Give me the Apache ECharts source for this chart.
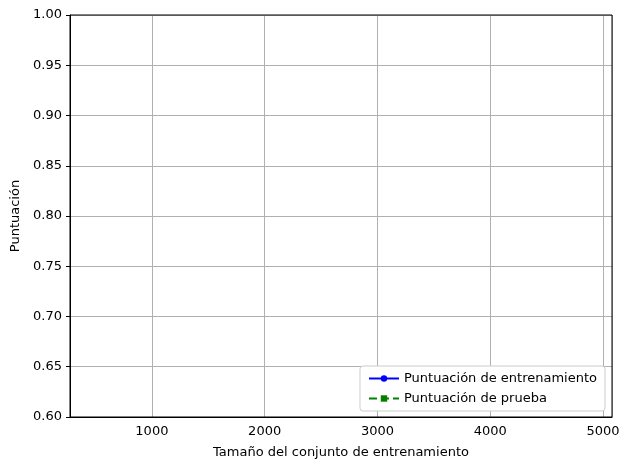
<!DOCTYPE html>
<html>
<head>
<meta charset="UTF-8">
<script src="https://cdn.jsdelivr.net/npm/echarts@6/dist/echarts.min.js"></script>
<style>
  html, body { margin:0; padding:0; background:#fff; }
  #chart { width:629px; height:470px; }
</style>
</head>
<body>
<div id="chart"></div>
<script>
// Las curvas no aparecen dentro del rango visible del gráfico original
var trainSizes = [];
var trainScores = [];
var testScores = [];

var chart = echarts.init(document.getElementById('chart'));
var font = 'DejaVu Sans';
var option = {
  animation: false,
  textStyle: { fontFamily: font },
  grid: { left: 70, right: 17, top: 15, bottom: 53,
          show: true, borderColor: '#000', borderWidth: 1, z: 5 },
  legend: {
    orient: 'vertical', right: 24, bottom: 59,
    backgroundColor: '#fff', borderColor: '#ccc', borderWidth: 1, borderRadius: 3,
    padding: [6, 8, 6, 8], itemGap: 7, itemWidth: 30, itemHeight: 8,
    textStyle: { fontFamily: font, fontSize: 13, color: '#000' },
    data: ['Puntuación de entrenamiento', 'Puntuación de prueba']
  },
  xAxis: {
    type: 'value', min: 274, max: 5080,
    name: 'Tamaño del conjunto de entrenamiento', nameLocation: 'middle', nameGap: 29,
    nameTextStyle: { fontFamily: font, fontSize: 13, color: '#000' },
    axisLine: { lineStyle: { color: '#000' } },
    axisTick: { show: false },
    axisLabel: { color: '#000', fontSize: 13, fontFamily: font,
      formatter: function (v) { return v % 1000 === 0 ? String(v) : ''; } },
    splitLine: { show: true, lineStyle: { color: '#b0b0b0', width: 1 } }
  },
  yAxis: {
    type: 'value', min: 0.6, max: 1.0, interval: 0.05,
    name: 'Puntuación', nameLocation: 'middle', nameGap: 47,
    nameTextStyle: { fontFamily: font, fontSize: 13, color: '#000' },
    axisLine: { show: true, lineStyle: { color: '#000' } },
    axisTick: { show: true, length: 4, lineStyle: { color: '#000' } },
    axisLabel: { color: '#000', fontSize: 13, fontFamily: font,
      formatter: function (v) { return v.toFixed(2); } },
    splitLine: { show: true, lineStyle: { color: '#b0b0b0', width: 1 } }
  },
  series: [
    { name: 'Puntuación de entrenamiento', type: 'line', color: '#0000ff',
      symbol: 'circle', symbolSize: 7, lineStyle: { width: 1.5 },
      data: trainSizes.map(function (s, i) { return [s, trainScores[i]]; }) },
    { name: 'Puntuación de prueba', type: 'line', color: '#008000',
      symbol: 'rect', symbolSize: 6, lineStyle: { width: 1.5, type: 'dashed' },
      data: trainSizes.map(function (s, i) { return [s, testScores[i]]; }) }
  ]
};
chart.setOption(option);
</script>
</body>
</html>
